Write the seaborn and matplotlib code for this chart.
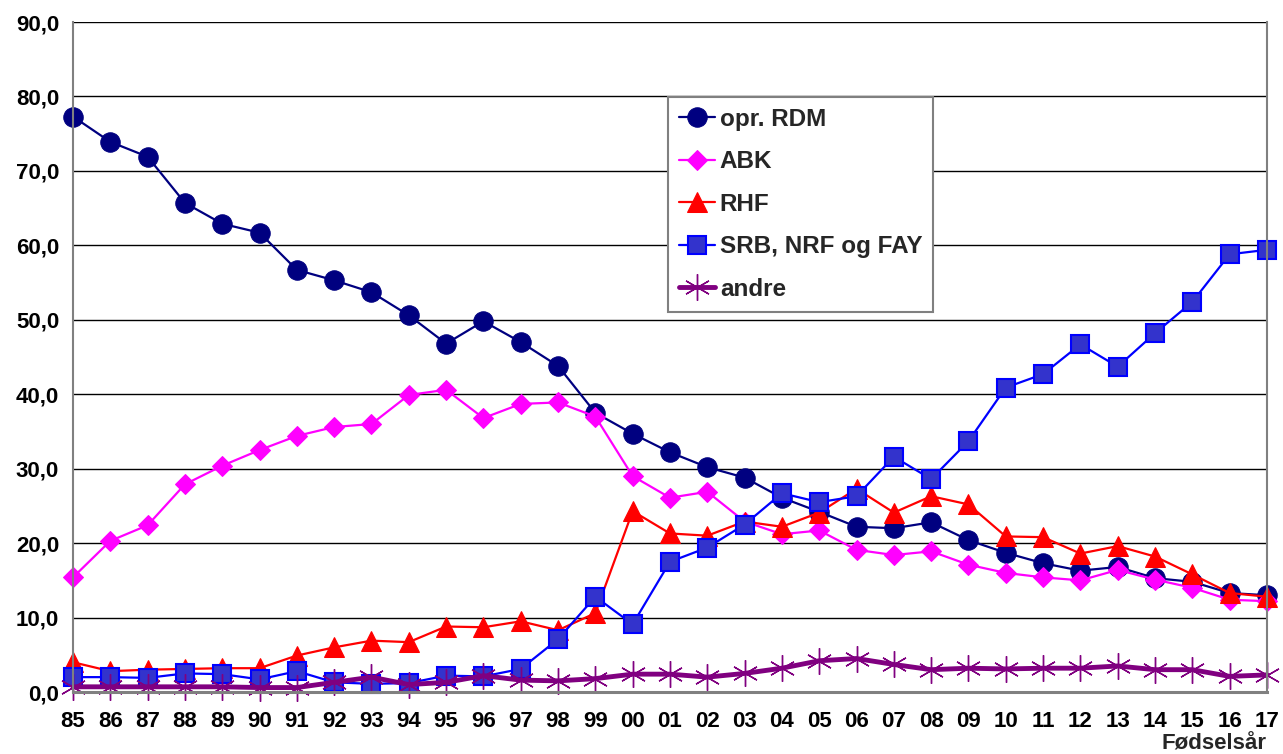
import numpy as np
import pandas as pd
import matplotlib
matplotlib.use("Agg")
import matplotlib.pyplot as plt
import seaborn as sns

# Fødselsår (two-digit labels)
years = ['85', '86', '87', '88', '89', '90', '91', '92', '93', '94', '95', '96', '97', '98', '99',
         '00', '01', '02', '03', '04', '05', '06', '07', '08', '09', '10', '11', '12', '13', '14',
         '15', '16', '17']

opr_rdm = [77.3, 73.9, 71.9, 65.7, 62.9, 61.7, 56.7, 55.3, 53.7, 50.6, 46.8, 49.8, 47.0, 43.8, 37.5,
           34.7, 32.2, 30.2, 28.8, 26.1, 24.2, 22.2, 22.0, 22.8, 20.4, 18.7, 17.3, 16.3, 16.8, 15.3,
           14.8, 13.3, 13.0]
abk = [15.4, 20.3, 22.4, 27.9, 30.4, 32.5, 34.4, 35.6, 36.0, 39.9, 40.6, 36.8, 38.7, 38.9, 37.0,
       29.0, 26.1, 26.9, 22.9, 21.2, 21.7, 19.1, 18.4, 18.9, 17.1, 16.0, 15.4, 15.0, 16.4, 15.1,
       14.0, 12.4, 12.2]
rhf = [4.0, 2.8, 3.0, 3.1, 3.2, 3.2, 4.9, 6.0, 6.9, 6.7, 8.8, 8.7, 9.5, 8.3, 10.6,
       24.3, 21.3, 21.0, 22.9, 22.2, 24.1, 27.3, 24.1, 26.3, 25.2, 20.9, 20.8, 18.6, 19.6, 18.2,
       15.8, 13.3, 12.8]
srb_nrf_fay = [2.0, 2.0, 1.9, 2.5, 2.4, 1.7, 2.8, 1.3, 1.1, 1.2, 2.2, 2.1, 3.1, 7.1, 12.8,
               9.1, 17.5, 19.4, 22.5, 26.7, 25.5, 26.3, 31.6, 28.6, 33.7, 40.9, 42.7, 46.7, 43.7, 48.2,
               52.4, 58.8, 59.4]
andre = [0.7, 0.7, 0.7, 0.7, 0.7, 0.6, 0.6, 1.3, 2.0, 1.0, 1.3, 2.2, 1.6, 1.5, 1.8,
         2.4, 2.4, 2.0, 2.5, 3.2, 4.2, 4.5, 3.7, 3.0, 3.2, 3.1, 3.2, 3.2, 3.5, 3.0,
         3.0, 2.1, 2.3]

sns.set_style("white")
plt.rcParams['font.family'] = ['Liberation Sans', 'DejaVu Sans']
plt.rcParams['font.weight'] = 'bold'

fig = plt.figure(figsize=(12.83, 7.54), dpi=100)
ax = fig.add_axes([0.0569, 0.0822, 0.9306, 0.8886])

xpos = np.arange(len(years))

series = [
    ('opr. RDM', opr_rdm, dict(color='#000080', marker='o', markersize=14,
                               markerfacecolor='#000080', markeredgecolor='#000080', linewidth=1.6)),
    ('ABK', abk, dict(color='#FF00FF', marker='D', markersize=10.5,
                      markerfacecolor='#FF00FF', markeredgecolor='#FF00FF', linewidth=1.6)),
    ('RHF', rhf, dict(color='#FF0000', marker='^', markersize=15,
                      markerfacecolor='#FF0000', markeredgecolor='#FF0000', linewidth=1.6)),
    ('SRB, NRF og FAY', srb_nrf_fay, dict(color='#0000FF', marker='s', markersize=13.5,
                                          markerfacecolor='#3333CC', markeredgecolor='#0000FF',
                                          markeredgewidth=1.5, linewidth=1.6)),
    ('andre', andre, dict(color='#800080', marker=(6, 2, 0), markersize=19,
                          markeredgecolor='#800080', markeredgewidth=1.0, linewidth=3.5)),
]

for name, vals, style in series:
    sns.lineplot(x=xpos, y=vals, ax=ax, label=name, clip_on=False, **style)

ax.set_xlim(xpos[0], xpos[-1])
ax.set_ylim(0, 90)
ax.set_yticks(np.arange(0, 91, 10))
ax.set_yticklabels([f"{v:.1f}".replace('.', ',') for v in np.arange(0, 91, 10)])
ax.set_xticks(xpos)
ax.set_xticklabels(years)
ax.tick_params(axis='both', labelsize=16, colors='black')
ax.tick_params(axis='x', direction='in', length=7, width=1, color='black', pad=14)
ax.tick_params(axis='y', direction='out', length=6, width=1, color='#808080', pad=4)
for lab in ax.get_xticklabels() + ax.get_yticklabels():
    lab.set_fontweight('bold')

ax.yaxis.grid(True, color='black', linewidth=1)
ax.xaxis.grid(False)
ax.set_axisbelow(True)
ax.spines['top'].set_visible(False)
for side in ['left', 'right']:
    ax.spines[side].set_color('#808080')
    ax.spines[side].set_linewidth(1.5)
ax.spines['bottom'].set_color('#808080')
ax.spines['bottom'].set_linewidth(2.2)
ax.set_xlabel('')
ax.set_ylabel('')

fig.text(0.9875, 0.0, 'Fødselsår', ha='right', va='bottom', fontsize=16, fontweight='bold')

leg = ax.legend(loc='upper left', bbox_to_anchor=(0.498, 0.888), fontsize=17.5, frameon=True,
                fancybox=False, edgecolor='#808080', framealpha=1, handlelength=1.5,
                labelspacing=0.8, borderpad=0.45, handletextpad=0.2, borderaxespad=0)
leg.get_frame().set_linewidth(1.5)
for t in leg.get_texts():
    t.set_fontweight('bold')

fig.savefig('out.png', dpi=100)
